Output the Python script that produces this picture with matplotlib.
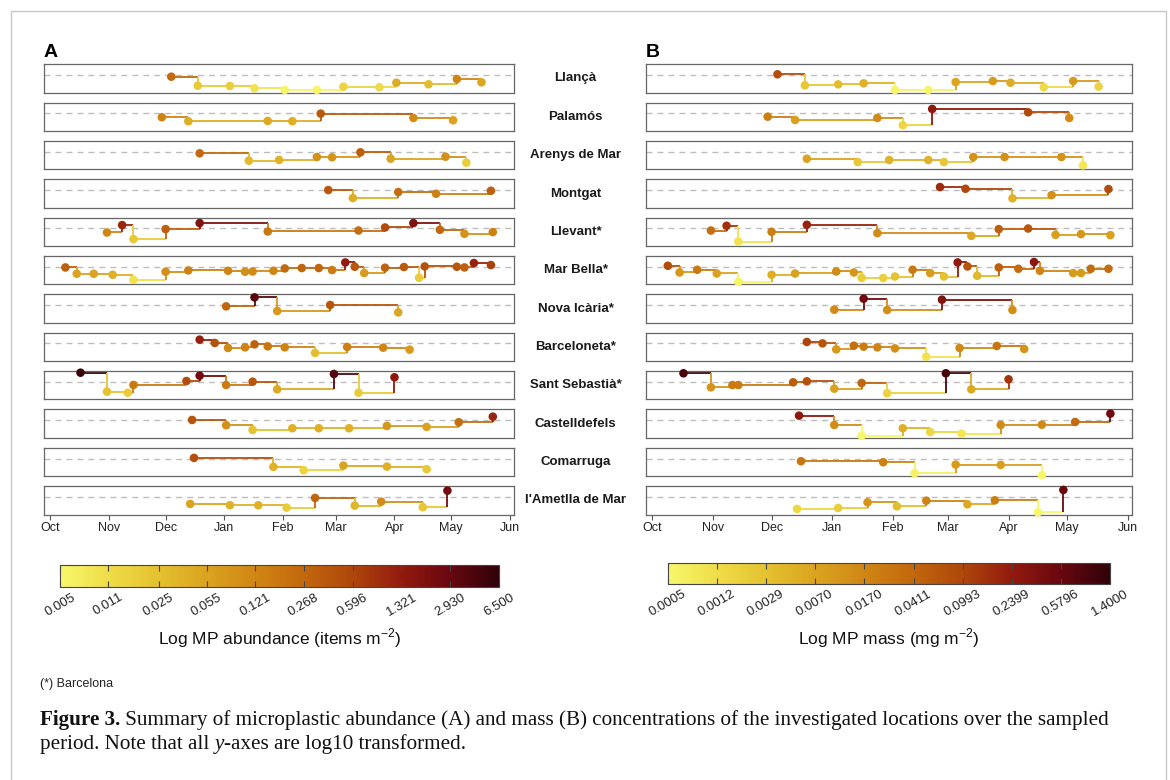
import matplotlib
matplotlib.use("Agg")
import matplotlib.pyplot as plt
import matplotlib.dates as mdates
from matplotlib.colors import LinearSegmentedColormap, LogNorm
from matplotlib.cm import ScalarMappable
from matplotlib.ticker import NullLocator
from matplotlib.patches import Rectangle
import numpy as np
import pandas as pd

plt.rcParams['font.family'] = ['Liberation Sans', 'DejaVu Sans']
plt.rcParams['mathtext.fontset'] = 'custom'
plt.rcParams['mathtext.rm'] = 'Liberation Sans'

sites = ["Llançà", "Palamós", "Arenys de Mar", "Montgat", "Llevant*", "Mar Bella*",
         "Nova Icària*", "Barceloneta*", "Sant Sebastià*", "Castelldefels",
         "Comarruga", "l'Ametlla de Mar"]

dates = [
    ["2018-12-04", "2018-12-18", "2019-01-04", "2019-01-17", "2019-02-02", "2019-02-19",
     "2019-03-05", "2019-03-24", "2019-04-02", "2019-04-19", "2019-05-04", "2019-05-17"],
    ["2018-11-29", "2018-12-13", "2019-01-24", "2019-02-06", "2019-02-21", "2019-04-11",
     "2019-05-02"],
    ["2018-12-19", "2019-01-14", "2019-01-30", "2019-02-19", "2019-02-27", "2019-03-14",
     "2019-03-30", "2019-04-28", "2019-05-09"],
    ["2019-02-25", "2019-03-10", "2019-04-03", "2019-04-23", "2019-05-22"],
    ["2018-10-31", "2018-11-08", "2018-11-14", "2018-12-01", "2018-12-19", "2019-01-24",
     "2019-03-13", "2019-03-27", "2019-04-11", "2019-04-25", "2019-05-08", "2019-05-23"],
    ["2018-10-09", "2018-10-15", "2018-10-24", "2018-11-03", "2018-11-14", "2018-12-01",
     "2018-12-13", "2019-01-03", "2019-01-12", "2019-01-16", "2019-01-27", "2019-02-02",
     "2019-02-11", "2019-02-20", "2019-02-27", "2019-03-06", "2019-03-11", "2019-03-16",
     "2019-03-27", "2019-04-06", "2019-04-14", "2019-04-17", "2019-05-04", "2019-05-08",
     "2019-05-13", "2019-05-22"],
    ["2019-01-02", "2019-01-17", "2019-01-29", "2019-02-26", "2019-04-03"],
    ["2018-12-19", "2018-12-27", "2019-01-03", "2019-01-12", "2019-01-17", "2019-01-24",
     "2019-02-02", "2019-02-18", "2019-03-07", "2019-03-26", "2019-04-09"],
    ["2018-10-17", "2018-10-31", "2018-11-11", "2018-11-14", "2018-12-12", "2018-12-19",
     "2019-01-02", "2019-01-16", "2019-01-29", "2019-02-28", "2019-03-13", "2019-04-01"],
    ["2018-12-15", "2019-01-02", "2019-01-16", "2019-02-06", "2019-02-20", "2019-03-08",
     "2019-03-28", "2019-04-18", "2019-05-05", "2019-05-23"],
    ["2018-12-16", "2019-01-27", "2019-02-12", "2019-03-05", "2019-03-28", "2019-04-18"],
    ["2018-12-14", "2019-01-04", "2019-01-19", "2019-02-03", "2019-02-18", "2019-03-11",
     "2019-03-25", "2019-04-16", "2019-04-29"],
]

# items m-2
abundance = [
    [0.248, 0.0188, 0.0172, 0.0089, 0.0055, 0.0055, 0.0141, 0.0119, 0.0444, 0.0281, 0.128, 0.0498],
    [0.132, 0.0419, 0.0457, 0.0419, 0.371, 0.108, 0.0559],
    [0.255, 0.0306, 0.0374, 0.0884, 0.0811, 0.340, 0.0543, 0.0964, 0.0172],
    [0.404, 0.0407, 0.228, 0.140, 0.331],
    [0.125, 1.04, 0.0188, 0.331, 1.85, 0.166, 0.221, 0.524, 1.85, 0.271, 0.0859, 0.140],
    [0.331, 0.0543, 0.0543, 0.0407, 0.0097, 0.0964, 0.140, 0.128, 0.0964, 0.105, 0.128, 0.248,
     0.279, 0.279, 0.157, 1.39, 0.404, 0.0664, 0.304, 0.371, 0.0172, 0.441, 0.404, 0.331, 1.17, 0.659],
    [0.279, 3.68, 0.0744, 0.416, 0.0498],
    [1.20, 0.467, 0.111, 0.132, 0.312, 0.176, 0.132, 0.0265, 0.148, 0.121, 0.0683],
    [5.51, 0.0236, 0.0177, 0.162, 0.508, 2.33, 0.162, 0.416, 0.0470, 3.79, 0.0177, 1.47],
    [0.428, 0.0936, 0.0243, 0.0396, 0.0396, 0.0396, 0.0766, 0.058, 0.221, 1.10],
    [0.481, 0.0363, 0.0141, 0.0528, 0.0396, 0.0188],
    [0.0528, 0.0363, 0.0363, 0.0182, 0.295, 0.0324, 0.102, 0.0205, 2.39],
]

# mg m-2
mass = [
    [0.0802, 0.0024, 0.0033, 0.0046, 0.00055, 0.00055, 0.0069, 0.0095, 0.0056, 0.0013, 0.0095, 0.0016],
    [0.0225, 0.0079, 0.0149, 0.0015, 0.260, 0.0910, 0.0149],
    [0.0069, 0.0024, 0.0046, 0.0046, 0.0024, 0.0119, 0.0119, 0.0119, 0.00085],
    [0.166, 0.097, 0.0046, 0.0131, 0.0881],
    [0.0330, 0.147, 0.0010, 0.0218, 0.201, 0.0144, 0.0061, 0.0514, 0.0622, 0.0084, 0.0105, 0.0076],
    [0.0881, 0.0105, 0.0247, 0.0076, 0.00055, 0.0050, 0.0076, 0.0144, 0.0105, 0.0019, 0.0018, 0.0029,
     0.0247, 0.0087, 0.0029, 0.252, 0.0706, 0.0037, 0.0514, 0.0340, 0.286, 0.0180, 0.0087, 0.0087,
     0.0340, 0.0340],
    [0.0149, 0.491, 0.0135, 0.357, 0.0135],
    [0.103, 0.0662, 0.0098, 0.0319, 0.0232, 0.0186, 0.0135, 0.00097, 0.0153, 0.0290, 0.0112],
    [0.956, 0.0112, 0.0232, 0.0232, 0.0547, 0.0752, 0.0072, 0.0438, 0.0017, 0.956, 0.0059, 0.142],
    [0.268, 0.0140, 0.00047, 0.0049, 0.0015, 0.00088, 0.0140, 0.0153, 0.0362, 0.506],
    [0.0272, 0.0198, 0.00060, 0.0092, 0.0084, 0.00032],
    [0.0014, 0.0019, 0.0115, 0.0032, 0.0192, 0.0061, 0.0218, 0.00048, 0.576],
]

abund_ticks = [0.005, 0.011, 0.025, 0.055, 0.121, 0.268, 0.596, 1.321, 2.930, 6.500]
abund_labels = ["0.005", "0.011", "0.025", "0.055", "0.121", "0.268", "0.596", "1.321", "2.930", "6.500"]
mass_ticks = [0.0005, 0.0012, 0.0029, 0.0070, 0.0170, 0.0411, 0.0993, 0.2399, 0.5796, 1.4000]
mass_labels = ["0.0005", "0.0012", "0.0029", "0.0070", "0.0170", "0.0411", "0.0993", "0.2399",
               "0.5796", "1.4000"]

months = ["Oct", "Nov", "Dec", "Jan", "Feb", "Mar", "Apr", "May", "Jun"]
month_starts = ["2018-10-01", "2018-11-01", "2018-12-01", "2019-01-01", "2019-02-01",
                "2019-03-01", "2019-04-01", "2019-05-01", "2019-06-01"]

heat = LinearSegmentedColormap.from_list(
    "heat", ["#f7f76b", "#efdc47", "#e4c12f", "#dba31f", "#d08614",
             "#c2670d", "#ae470a", "#931a0e", "#690710", "#300208"])

W, H = 1170, 780
fig = plt.figure(figsize=(W / 100, H / 100), dpi=100)


def box(x0, y0, x1, y1):
    return [x0 / W, 1 - y1 / H, (x1 - x0) / W, (y1 - y0) / H]


panels = [
    dict(letter="A", values=abundance, norm=LogNorm(0.005, 6.5), ylim=(-2.6, 0.94), ref=0.40,
         x=(44, 514), cbar=(60, 565, 499, 587), ticks=abund_ticks, labels=abund_labels,
         title="Log MP abundance (items m$^{-2}$)"),
    dict(letter="B", values=mass, norm=LogNorm(0.0005, 1.4), ylim=(-3.63, 0.284), ref=0.064,
         x=(645.7, 1132.3), cbar=(668, 563, 1110, 584), ticks=mass_ticks, labels=mass_labels,
         title="Log MP mass (mg m$^{-2}$)"),
]

xmin = mdates.date2num(pd.Timestamp("2018-10-01")) - 3.3
xmax = mdates.date2num(pd.Timestamp("2019-06-01")) + 2.2
month_nums = mdates.date2num(pd.to_datetime(month_starts))

for k, p in enumerate(panels):
    x0, x1 = p["x"]
    fig.text(x0 / W, 1 - 57 / H, p["letter"], fontsize=14, fontweight="bold", va="baseline")
    for i, site in enumerate(sites):
        top = 64.3 + 38.35 * i
        ax = fig.add_axes(box(x0, top, x1, top + 28.4))
        d = mdates.date2num(pd.to_datetime(dates[i]))
        v = np.array(p["values"][i])
        y = np.log10(v)
        c = heat(p["norm"](v))
        ax.axhline(np.log10(p["ref"]), color="#bdbdbd", lw=1, ls=(0, (4.3, 3.6)), zorder=1)
        for j in range(len(d) - 1):
            ax.plot([d[j], d[j + 1]], [y[j], y[j]], color=c[j], lw=1.3,
                    solid_capstyle="butt", zorder=2)
            ax.plot([d[j + 1], d[j + 1]], [y[j], y[j + 1]], color=c[j + 1], lw=1.3,
                    solid_capstyle="butt", zorder=2)
        ax.scatter(d, y, c=c, s=38, edgecolors="none", zorder=3, clip_on=False)
        ax.set_xlim(xmin, xmax)
        ax.set_ylim(*p["ylim"])
        ax.set_yticks([])
        for sp in ax.spines.values():
            sp.set_color("#666666")
            sp.set_linewidth(0.9)
        if i == len(sites) - 1:
            ax.set_xticks(month_nums)
            ax.set_xticklabels(months)
            ax.tick_params(axis="x", length=3.5, color="#555555", width=0.8,
                           labelsize=9, labelcolor="#222222", pad=2)
        else:
            ax.set_xticks([])
        if k == 0:
            fig.text(575.5 / W, 1 - (top + 14.2) / H, site, ha="center", va="center",
                     fontsize=9.5, fontweight="bold", color="#1a1a1a")

    cx0, cy0, cx1, cy1 = p["cbar"]
    cax = fig.add_axes(box(cx0, cy0, cx1, cy1))
    cb = fig.colorbar(ScalarMappable(norm=p["norm"], cmap=heat), cax=cax, orientation="horizontal")
    cb.set_ticks(p["ticks"])
    cb.set_ticklabels(p["labels"])
    cax.xaxis.set_minor_locator(NullLocator())
    cax.tick_params(axis="x", which="major", direction="in", length=4, top=True, bottom=True,
                    color="#444444", width=0.8, labelsize=9.5, labelrotation=30, pad=3,
                    labelcolor="#222222")
    for lbl in cax.get_xticklabels():
        lbl.set_ha("center")
        lbl.set_va("top")
    cb.outline.set_edgecolor("#444444")
    cb.outline.set_linewidth(0.8)
    fig.text((cx0 + cx1) / 2 / W, 1 - 638 / H, p["title"], ha="center", va="center",
             fontsize=12.5, color="#111111")

fig.text(40 / W, 1 - 684 / H, "(*) Barcelona", fontsize=9, va="center", color="#222222")

# caption
renderer = fig.canvas.get_renderer()


def write_line(x, y, parts, size):
    made = []
    for s, kw in parts:
        t = fig.text(x / W, 1 - y / H, s, fontsize=size, family="Liberation Serif",
                     va="baseline", color="#111111", **kw)
        made.append(t)
        x = t.get_window_extent(renderer=renderer).x1
    return made, x


line1 = [("Figure 3.", dict(fontweight="bold")),
         (" Summary of microplastic abundance (A) and mass (B) concentrations of the "
          "investigated locations over the sampled", {})]
line2 = [("period. Note that all ", {}), ("y", dict(style="italic")),
         ("-axes are log10 transformed.", {})]

trial, end = write_line(40, 725, line1, 10)
size = 10 * (1112 - 40) / (end - 40)
for t in trial:
    t.remove()
write_line(40, 725, line1, size)
write_line(40, 749, line2, size)

fig.add_artist(Rectangle((11 / W, -0.05), (1166 - 11) / W, 1 - 11 / H + 0.05,
                         transform=fig.transFigure, fill=False, ec="#c8c8c8", lw=1))

fig.savefig("out.png", dpi=100)
